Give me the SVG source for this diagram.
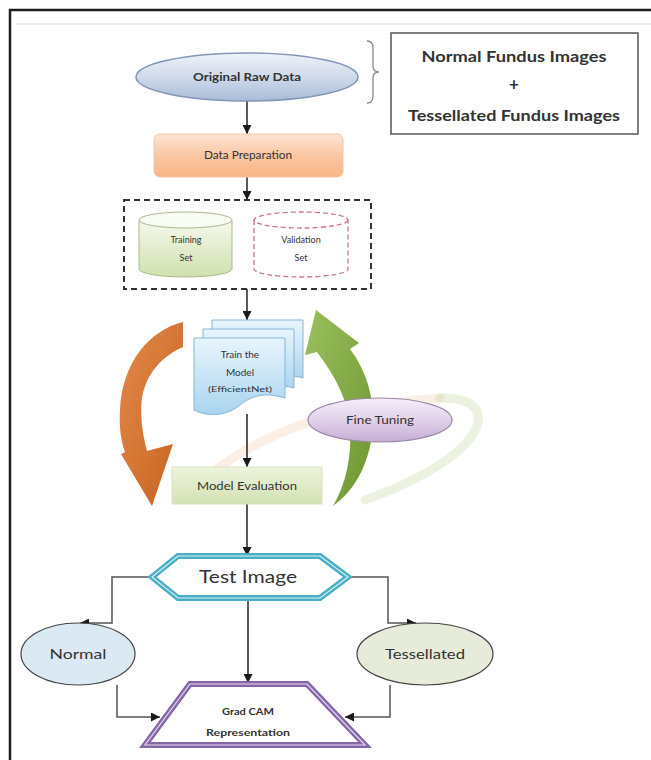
<svg xmlns="http://www.w3.org/2000/svg" width="651" height="760" viewBox="0 0 651 760">
  <defs>
    <linearGradient id="gBlue" x1="0" y1="0" x2="0" y2="1">
      <stop offset="0" stop-color="#eef2f8"/>
      <stop offset="0.5" stop-color="#cfdaea"/>
      <stop offset="1" stop-color="#a9bcd8"/>
    </linearGradient>
    <linearGradient id="gPeach" x1="0" y1="0" x2="0" y2="1">
      <stop offset="0" stop-color="#fde6d6"/>
      <stop offset="0.5" stop-color="#fac7a2"/>
      <stop offset="1" stop-color="#f7b584"/>
    </linearGradient>
    <linearGradient id="gTrain" x1="0" y1="0" x2="0" y2="1">
      <stop offset="0" stop-color="#f6f9ee"/>
      <stop offset="1" stop-color="#cfe0ac"/>
    </linearGradient>
    <linearGradient id="gDoc" x1="0" y1="0" x2="0" y2="1">
      <stop offset="0" stop-color="#e8f5fc"/>
      <stop offset="1" stop-color="#a9d4ef"/>
    </linearGradient>
    <linearGradient id="gEval" x1="0" y1="0" x2="0" y2="1">
      <stop offset="0" stop-color="#eef4de"/>
      <stop offset="1" stop-color="#d2e1b1"/>
    </linearGradient>
    <linearGradient id="gLilac" x1="0" y1="0" x2="0" y2="1">
      <stop offset="0" stop-color="#f6eff9"/>
      <stop offset="0.6" stop-color="#dccbe6"/>
      <stop offset="1" stop-color="#c4acd4"/>
    </linearGradient>
    <linearGradient id="gOrange" x1="0" y1="0" x2="1" y2="1">
      <stop offset="0" stop-color="#e58a4a"/>
      <stop offset="1" stop-color="#c4621f"/>
    </linearGradient>
    <linearGradient id="gGreen" x1="0" y1="0" x2="1" y2="1">
      <stop offset="0" stop-color="#9cc05e"/>
      <stop offset="1" stop-color="#6b9530"/>
    </linearGradient>
    <marker id="arrow" viewBox="0 0 10 10" refX="10" refY="5" markerWidth="9" markerHeight="9" markerUnits="userSpaceOnUse" orient="auto">
      <path d="M0,0 L10,5 L0,10 Z" fill="#1a1a1a"/>
    </marker>
  </defs>
  <style>
    .t { font-family: Lato, "Liberation Sans", sans-serif; fill: #333; text-anchor: middle; }
    .b { font-weight: bold; }
    .conn { fill: none; stroke: #222; stroke-width: 1.5; marker-end: url(#arrow); }
    .elbow { fill: none; stroke: #555; stroke-width: 1.5; marker-end: url(#arrow); }
  </style>

  <!-- page frame -->
  <rect width="651" height="760" fill="#ffffff"/>
  <path d="M10,760 V10 H651" fill="none" stroke="#1e1e1e" stroke-width="2.5"/>
  <line x1="16" y1="24" x2="651" y2="24" stroke="#eeeeee" stroke-width="2"/>

  <!-- background swoosh -->
  <g id="swoosh" fill="none" stroke-linecap="round">
    <path d="M215,470 C270,430 340,405 440,398" stroke="#f3c9a8" stroke-width="9" opacity="0.3"/>
    <path d="M440,398 C505,396 492,455 365,500" stroke="#c7dba3" stroke-width="9" opacity="0.35"/>
  </g>

  <!-- dataset brace and description -->
  <g id="brace">
    <path d="M367,41 Q373,41 373,48 V66 Q373,72 379,72 Q373,72 373,78 V96 Q373,103 367,103" fill="none" stroke="#8a8a8a" stroke-width="1.3"/>
  </g>
  <g id="dataset-note">
    <rect x="391" y="33" width="247" height="101" fill="#fff" stroke="#555" stroke-width="1.5"/>
    <text class="t b" x="514" y="62" font-size="15" textLength="185" lengthAdjust="spacingAndGlyphs">Normal Fundus Images</text>
    <text class="t b" x="514" y="90" font-size="17">+</text>
    <text class="t b" x="514" y="121" font-size="15" textLength="212" lengthAdjust="spacingAndGlyphs">Tessellated Fundus Images</text>
  </g>

  <!-- connectors -->
  <g id="connectors">
    <line class="conn" x1="247" y1="101" x2="247" y2="134"/>
    <line class="conn" x1="247" y1="177" x2="247" y2="200"/>
    <line class="conn" x1="247" y1="289" x2="247" y2="320"/>
    <line class="conn" x1="247" y1="414" x2="247" y2="467"/>
    <line class="conn" x1="247" y1="504" x2="247" y2="556"/>
    <line class="conn" x1="248" y1="598" x2="248" y2="683"/>
    <path class="elbow" d="M152,577 H112 V623 H80"/>
    <path class="elbow" d="M348,577 H388 V623 H416"/>
    <path class="elbow" d="M117,685 V717 H160"/>
    <path class="elbow" d="M390,685 V717 H345"/>
  </g>

  <g id="raw-data">
    <ellipse cx="247" cy="77" rx="111" ry="24" fill="url(#gBlue)" stroke="#8297b5" stroke-width="1.5"/>
    <text class="t b" x="247" y="81" font-size="11" textLength="108" lengthAdjust="spacingAndGlyphs">Original Raw Data</text>
  </g>

  <g id="data-preparation">
    <rect x="154" y="134" width="189" height="43" rx="6" fill="url(#gPeach)" stroke="#f2c4a0" stroke-width="1"/>
    <text class="t" x="248" y="159" font-size="11" textLength="88" lengthAdjust="spacingAndGlyphs">Data Preparation</text>
  </g>

  <g id="split">
    <rect x="124" y="200" width="247" height="89" fill="none" stroke="#333" stroke-width="2" stroke-dasharray="6,4"/>
  </g>

  <g id="training-set">
    <path d="M139,220 V269 A46.5,8 0 0 0 232,269 V220" fill="url(#gTrain)" stroke="#a9b98e" stroke-width="1"/>
    <ellipse cx="185.5" cy="220" rx="46.5" ry="8" fill="#f8fbf2" stroke="#a9b98e" stroke-width="1"/>
    <text class="t" x="186" y="243" font-size="9" fill="#666">Training</text>
    <text class="t" x="186" y="261" font-size="9" fill="#666">Set</text>
  </g>

  <g id="validation-set">
    <path d="M254,220 V269 A47,8 0 0 0 348,269 V220" fill="#fff" stroke="#c8788a" stroke-width="1.3" stroke-dasharray="5,3"/>
    <ellipse cx="301" cy="220" rx="47" ry="8" fill="none" stroke="#c8788a" stroke-width="1.3" stroke-dasharray="5,3"/>
    <text class="t" x="301" y="243" font-size="9" fill="#666">Validation</text>
    <text class="t" x="301" y="261" font-size="9" fill="#666">Set</text>
  </g>

  <!-- training loop arrows -->
  <g id="loop-left">
    <path d="M183,322 C150,330 122,362 120,410 C119,428 121,441 125,452 L121,454 L152,506 L173,444 L147,451 C142,432 140,414 142,398 C146,374 162,356 183,347 Z" fill="url(#gOrange)"/>
  </g>
  <g id="loop-right">
    <path d="M333,506 C356,490 371,460 373,425 C374,396 366,370 350,349 L359,343 L316,310 L305,355 L317,352 C335,376 348,400 350,426 C352,456 346,484 333,506 Z" fill="url(#gGreen)"/>
  </g>

  <g id="train-model">
    <path d="M212,320 H303 V378 C290,374 280,376 272,381 L212,381 Z" fill="url(#gDoc)" stroke="#86b5d8" stroke-width="1"/>
    <path d="M203,329 H294 V388 C281,384 271,386 263,391 L203,391 Z" fill="url(#gDoc)" stroke="#86b5d8" stroke-width="1"/>
    <path d="M194,338 H285 V398 C266,392 252,395 240,405 C228,415 210,418 194,410 Z" fill="url(#gDoc)" stroke="#86b5d8" stroke-width="1"/>
    <text class="t" x="240" y="358" font-size="10">Train the</text>
    <text class="t" x="240" y="376" font-size="10">Model</text>
    <text class="t" x="240" y="392" font-size="7.5" textLength="64" lengthAdjust="spacingAndGlyphs">(EfficientNet)</text>
  </g>

  <g id="fine-tuning">
    <ellipse cx="380" cy="420" rx="72" ry="22" fill="url(#gLilac)" stroke="#9a8aa8" stroke-width="1.2"/>
    <text class="t" x="380" y="424" font-size="12" textLength="68" lengthAdjust="spacingAndGlyphs">Fine Tuning</text>
  </g>

  <g id="model-evaluation">
    <rect x="172" y="467" width="150" height="37" fill="url(#gEval)" stroke="#d8e3c2" stroke-width="1"/>
    <text class="t" x="247" y="490" font-size="12" textLength="100" lengthAdjust="spacingAndGlyphs">Model Evaluation</text>
  </g>

  <g id="test-image">
    <path d="M152,577 L178,556 H320 L348,577 L320,598 H178 Z" fill="#fff" stroke="#4aaec4" stroke-width="6" stroke-linejoin="miter"/>
    <path d="M152,577 L178,556 H320 L348,577 L320,598 H178 Z" fill="none" stroke="#d6f0f5" stroke-width="1.2"/>
    <text class="t" x="248" y="583" font-size="17" textLength="98" lengthAdjust="spacingAndGlyphs">Test Image</text>
  </g>

  <g id="normal">
    <ellipse cx="78" cy="654" rx="57" ry="31" fill="#dbe9f2" stroke="#444" stroke-width="1.2"/>
    <text class="t" x="78" y="659" font-size="14" textLength="57" lengthAdjust="spacingAndGlyphs">Normal</text>
  </g>

  <g id="tessellated">
    <ellipse cx="425" cy="654" rx="68" ry="31" fill="#e7ecda" stroke="#444" stroke-width="1.2"/>
    <text class="t" x="425" y="659" font-size="14" textLength="80" lengthAdjust="spacingAndGlyphs">Tessellated</text>
  </g>

  <g id="grad-cam">
    <path d="M190,684 H307 L365,745 H145 Z" fill="#fff" stroke="#8566a8" stroke-width="6" stroke-linejoin="miter"/>
    <path d="M190,684 H307 L365,745 H145 Z" fill="none" stroke="#e3d8ee" stroke-width="1.2"/>
    <text class="t b" x="248" y="715" font-size="10" textLength="52" lengthAdjust="spacingAndGlyphs">Grad CAM</text>
    <text class="t b" x="248" y="736" font-size="10" textLength="84" lengthAdjust="spacingAndGlyphs">Representation</text>
  </g>
</svg>
